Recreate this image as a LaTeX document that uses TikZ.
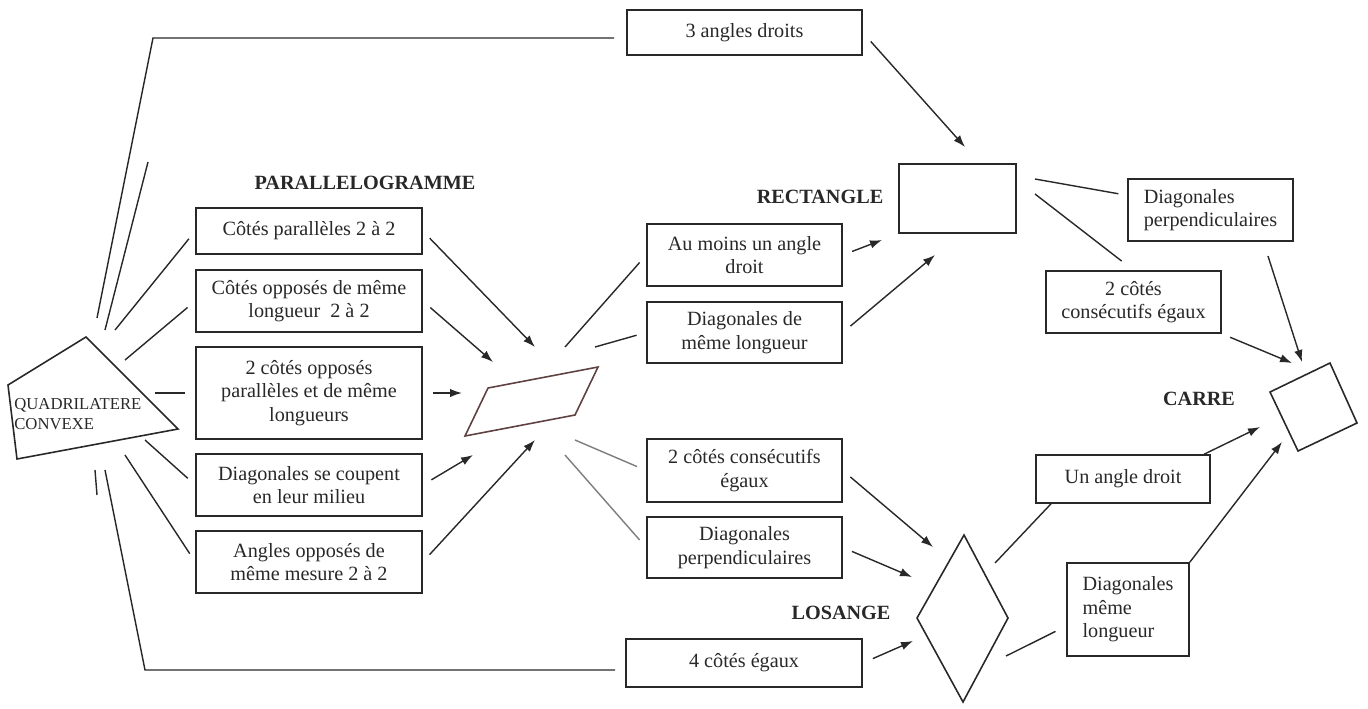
\documentclass[tikz,border=0pt]{standalone}
\usepackage{fontspec}
\setmainfont{Liberation Serif}
\usetikzlibrary{arrows.meta,calc}
\definecolor{ink}{RGB}{40,40,40}
\definecolor{pale}{RGB}{125,125,125}
\definecolor{rust}{RGB}{95,65,65}
\tikzset{
  >={Latex[length=2.4mm,width=1.7mm]},
  box/.style={draw=ink,line width=0.9pt,minimum width=#1,align=center,inner sep=2pt,
    text=ink,font=\fontsize{11.5}{13.4}\selectfont},
  box/.default=3.9cm,
  tag/.style={text=ink,inner sep=0pt,font=\fontsize{11.5}{13}\selectfont\bfseries},
  link/.style={draw=#1,line width=0.8pt},
  link/.default=ink,
  flow/.style={->,draw=ink,line width=0.8pt},
  figline/.style={draw=#1,line width=0.9pt},
  figline/.default=ink,
}
\begin{document}
\begin{tikzpicture}[x=0.02cm,y=-0.02cm]
\useasboundingbox (0,0) rectangle (1368,708);

% figures
\draw[figline] (86,337) -- (178,429) -- (17,459) -- (8,385) -- cycle;
\node[anchor=west,align=left,text=ink,inner sep=0pt,font=\fontsize{9.5}{11.4}\selectfont] (quad) at (14,414) {QUADRILATERE\\CONVEXE};
\draw[figline=rust] (488,388) -- (598,367) -- (575,415) -- (465,436) -- cycle;
\draw[figline] (899,164) rectangle (1016,233);
\draw[figline] (964,535) -- (1008,618) -- (963,702) -- (917,618) -- cycle;
\draw[figline] (1270,392) -- (1330,363) -- (1357,423) -- (1298,451) -- cycle;

\node[tag] (lpar) at (365,183) {PARALLELOGRAMME};
\node[tag] (lrect) at (820,197) {RECTANGLE};
\node[tag] (llos) at (841,613) {LOSANGE};
\node[tag] (lcar) at (1199,399) {CARRE};

% boxes
\node[box=4.7cm,minimum height=0.9cm] (top) at (744.5,32.5) {3 angles droits};
\node[box=4.72cm,minimum height=0.96cm] (bottom) at (744,663) {4 côtés égaux};

\node[box=4.52cm,minimum height=0.92cm] (par1) at (309,231) {Côtés parallèles 2 à 2};
\node[box=4.52cm,minimum height=1.24cm] (par2) at (309,301) {Côtés opposés de même\\longueur\ \ 2 à 2};
\node[box=4.52cm,minimum height=1.84cm] (par3) at (309,393) {2 côtés opposés\\parallèles et de même\\longueurs};
\node[box=4.52cm,minimum height=1.24cm] (par4) at (309,485) {Diagonales se coupent\\en leur milieu};
\node[box=4.52cm,minimum height=1.24cm] (par5) at (309,562) {Angles opposés de\\même mesure 2 à 2};

\node[box,minimum height=1.24cm] (droit) at (744.5,255) {Au moins un angle\\droit};
\node[box,minimum height=1.22cm] (diag) at (744.5,332.5) {Diagonales de\\même longueur};
\node[box,minimum height=1.26cm] (cons1) at (744.5,470.5) {2 côtés consécutifs\\égaux};
\node[box,minimum height=1.22cm] (perp1) at (744.5,547.5) {Diagonales\\perpendiculaires};

\node[box=3.3cm,minimum height=1.24cm,align=left] (perp2) at (1210.5,210) {Diagonales\\perpendiculaires};
\node[box=3.5cm,minimum height=1.24cm] (cons2) at (1133.5,302) {2 côtés\\consécutifs égaux};
\node[box=3.48cm,minimum height=0.96cm] (angle) at (1123,479) {Un angle droit};
\node[box=2.44cm,minimum height=1.86cm,align=left] (meme) at (1128,609.5) {Diagonales\\même\\longueur};

% free ends on the figures
\coordinate (qa) at (97,318);   \coordinate (qtop) at (153,38);
\coordinate (qb) at (105,470);  \coordinate (qbot) at (145,670);
\coordinate (q1) at (115,330);  \coordinate (q2) at (125,360);
\coordinate (q3) at (155,393);  \coordinate (q4) at (145,440);
\coordinate (q5) at (125,455);
\coordinate (p1) at (535,347);  \coordinate (p2) at (493,362);
\coordinate (p3) at (462,393);  \coordinate (p4) at (473,455);
\coordinate (p5) at (535,440);
\coordinate (s1) at (565,347);  \coordinate (s2) at (595,347);
\coordinate (s3) at (575,440);  \coordinate (s4) at (565,455);
\coordinate (r0) at (965,147);  \coordinate (r1) at (882,240);
\coordinate (r2) at (935,255);
\coordinate (k1) at (1035,179); \coordinate (k2) at (1035,194);
\coordinate (m1) at (933,547);  \coordinate (m2) at (912,577);
\coordinate (m3) at (913,641);
\coordinate (l1) at (995,563);  \coordinate (l2) at (1006,656);
\coordinate (c1) at (1292,363); \coordinate (c2) at (1302,362);
\coordinate (c3) at (1260,427); \coordinate (c4) at (1282,442);

% quadrilatere
\draw[link,shorten >=0.24cm] (qa) -- (qtop) -- (qtop -| top.west);
\draw[link,shorten >=0.2cm] (qb) -- (qbot) -- (qbot -| bottom.west);
\draw[link] (105,330) -- (148,162);
\draw[link] (95,470) -- (97,495);
\foreach \s/\b in {q1/par1,q2/par2,q3/par3,q4/par4,q5/par5}
  \draw[link,shorten >=0.2cm] (\s) -- (\b.west);

% parallelogramme
\foreach \b/\t in {par1/p1,par2/p2,par3/p3,par4/p4,par5/p5}
  \draw[flow,shorten <=0.2cm] (\b.east) -- (\t);
\draw[link,shorten >=0.2cm] (s1) -- (droit.west);
\draw[link,shorten >=0.2cm] (s2) -- (diag.west);
\draw[link=pale,shorten >=0.2cm] (s3) -- (cons1.west);
\draw[link=pale,shorten >=0.2cm] (s4) -- (perp1.west);

% rectangle
\draw[flow,shorten <=0.24cm] (top.east) -- (r0);
\draw[flow,shorten <=0.2cm] (droit.east) -- (r1);
\draw[flow,shorten <=0.2cm] (diag.east) -- (r2);
\draw[link,shorten >=0.18cm] (k1) -- (perp2.170);
\draw[link,shorten >=0.3cm] (k2) -- (cons2.north);

% losange
\draw[flow,shorten <=0.2cm] (cons1.east) -- (m1);
\draw[flow,shorten <=0.2cm] (perp1.east) -- (m2);
\draw[flow,shorten <=0.22cm] (bottom.east) -- (m3);
\draw[link] (l1) -- (angle.199);
\draw[link,shorten >=0.24cm] (l2) -- (meme.195);

% carre
\draw[flow,shorten <=0.3cm] (perp2.-31) -- (c2);
\draw[flow,shorten <=0.18cm] (cons2.south east) -- (c1);
\draw[flow] (angle.17) -- (c3);
\draw[flow] (meme.north east) -- (c4);
\end{tikzpicture}
\end{document}
